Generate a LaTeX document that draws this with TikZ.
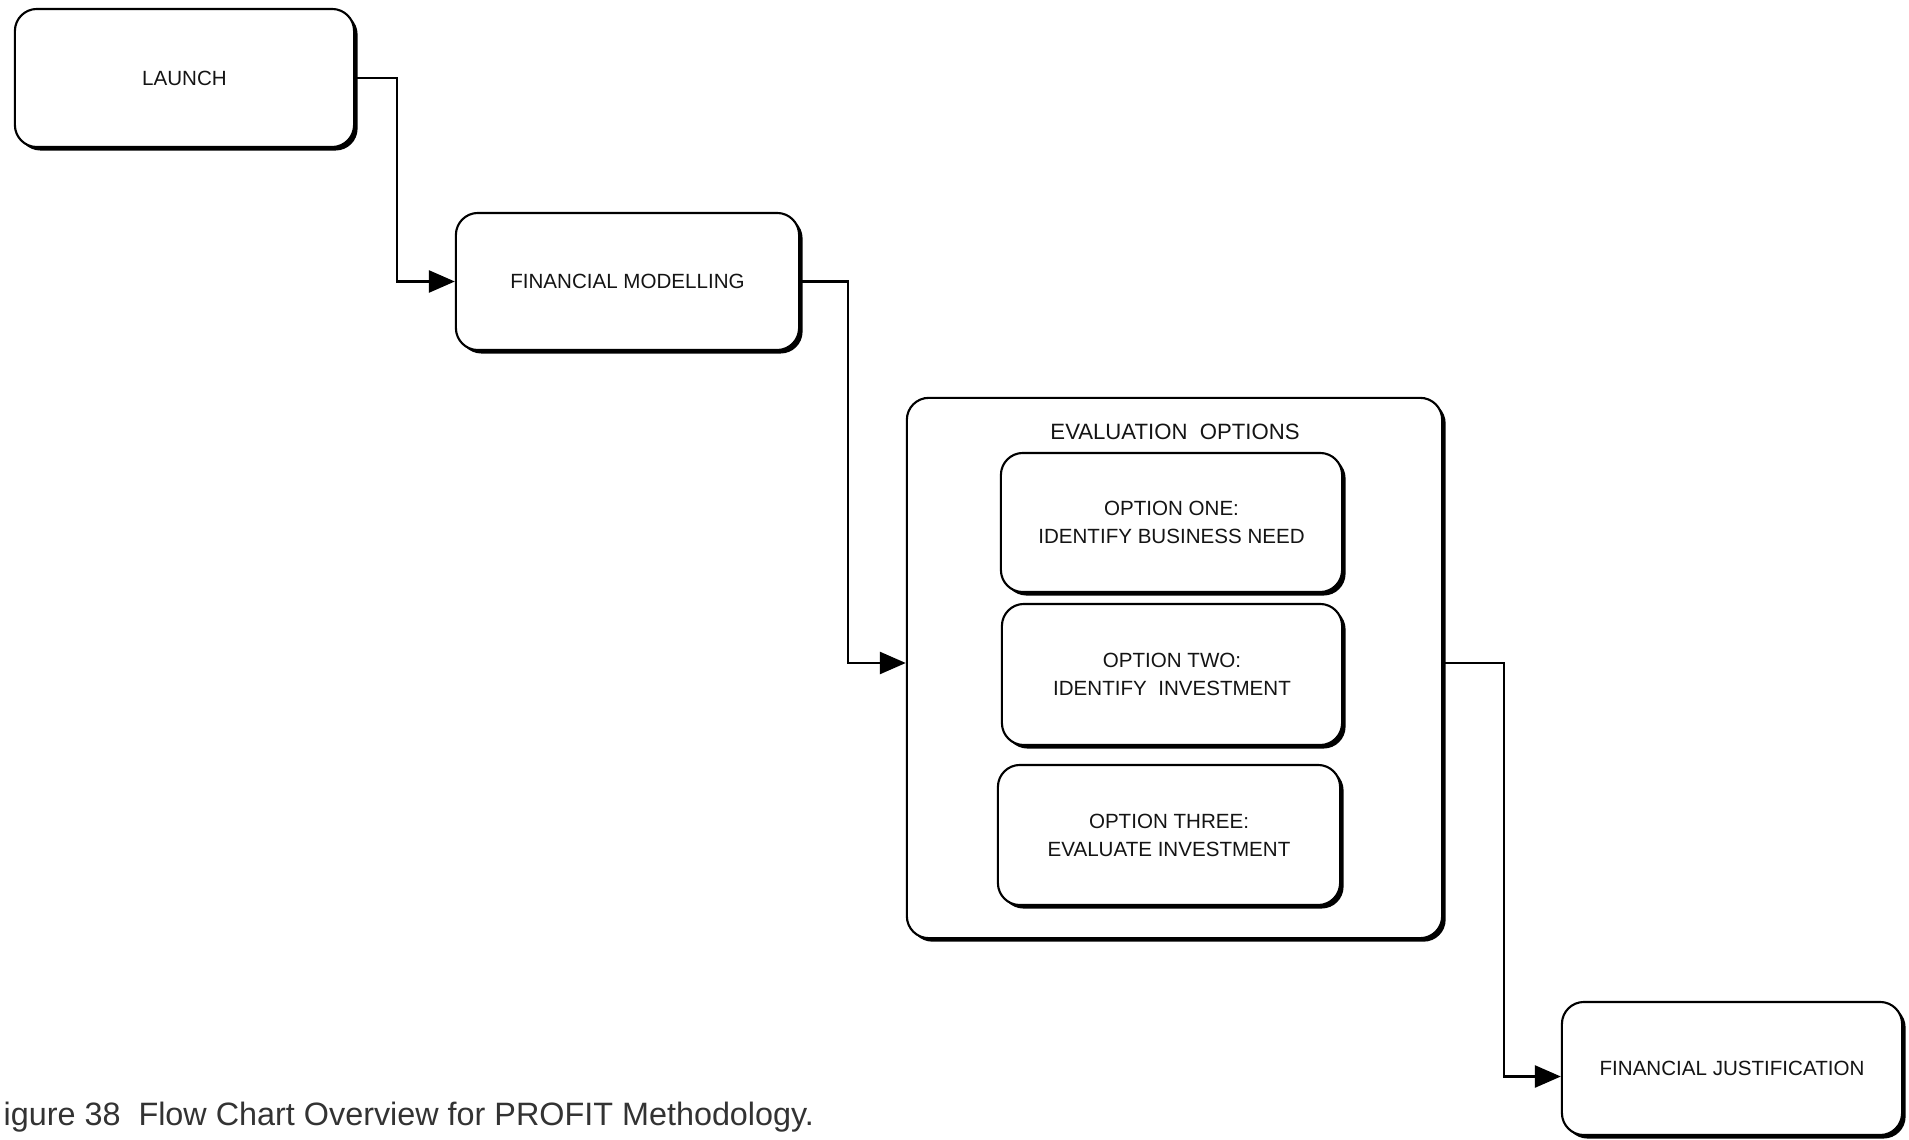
\documentclass[tikz,border=0pt]{standalone}
\usepackage{fontspec}
\setmainfont{Liberation Sans}
\usetikzlibrary{arrows.meta,shadows}
\begin{document}
\begin{tikzpicture}[x=0.01cm,y=-0.01cm,
  box/.style={draw=black, line width=0.6pt, fill=white, rounded corners=0.22cm,
    align=center, inner sep=0pt, text=black!92,
    font=\fontsize{5.85pt}{7.97pt}\selectfont,
    drop shadow={shadow xshift=0.035cm, shadow yshift=-0.035cm, fill=black, opacity=1}},
  arr/.style={line width=0.75pt, -{Triangle[length=0.26cm,width=0.22cm]}},
  ]
\useasboundingbox (0,0) rectangle (1909,1140);

% main stages
\node[box, minimum width=3.39cm, minimum height=1.38cm] (launch) at (184.5,78) {LAUNCH};
\node[box, minimum width=3.43cm, minimum height=1.37cm] (fm) at (627.5,281.5) {FINANCIAL MODELLING};
\node[box, minimum width=5.35cm, minimum height=5.40cm] (eval) at (1174.5,668) {};
\node[box, minimum width=3.40cm, minimum height=1.33cm] (fj) at (1732,1068.5) {FINANCIAL JUSTIFICATION};

% contents of the evaluation group
\node[text=black!92, font=\fontsize{6.3pt}{8pt}\selectfont] (evtitle) at (1175,432) {EVALUATION\ \ OPTIONS};
\node[box, minimum width=3.41cm, minimum height=1.39cm] (opt1) at (1171.5,522.5) {OPTION ONE:\\IDENTIFY BUSINESS NEED};
\node[box, minimum width=3.40cm, minimum height=1.41cm] (opt2) at (1172,674.5) {OPTION TWO:\\IDENTIFY\ \ INVESTMENT};
\node[box, minimum width=3.42cm, minimum height=1.40cm] (opt3) at (1169,835) {OPTION THREE:\\EVALUATE INVESTMENT};

% elbow columns of the connectors
\coordinate (j1) at (397,0);
\coordinate (j2) at (848,0);
\coordinate (j3) at (1504,0);

\draw[arr] (launch.east) -- (launch.east -| j1) |- (fm.west);
\draw[arr] (fm.east) -- (fm.east -| j2) |- ([yshift=0.05cm]eval.west);
\draw[arr] ([yshift=0.05cm]eval.east) -- ([yshift=0.05cm]eval.east -| j3) |- ([yshift=-0.08cm]fj.west);

% caption
\node[anchor=base west, inner sep=0pt, text=black!80, font=\fontsize{9.2pt}{11pt}\selectfont] (caption) at (3,1125) {igure 38\ \ Flow Chart Overview for PROFIT Methodology.};
\end{tikzpicture}
\end{document}
